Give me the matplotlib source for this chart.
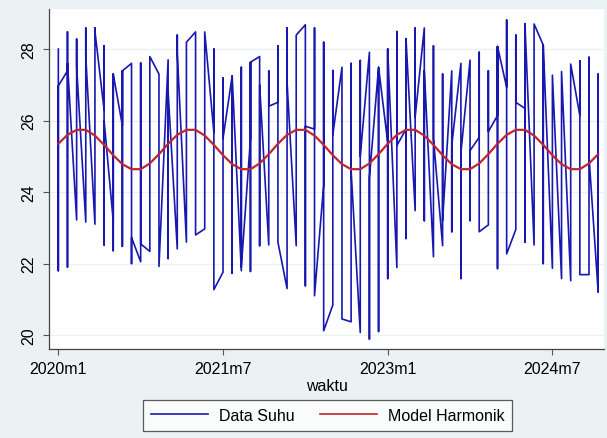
import matplotlib
matplotlib.use('Agg')
import matplotlib.pyplot as plt

plt.rcParams['font.family'] = ['Liberation Sans', 'DejaVu Sans']

# ---- data ----
tick_months = [0, 18, 36, 54]
tick_labels = ['2020m1', '2021m7', '2023m1', '2024m7']
y_ticks = [20, 22, 24, 26, 28]

# monthly observations of "Data Suhu": first, highest, lowest, last value in each month
suhu_first = [28.00, 27.39, 23.22, 23.16, 23.10, 26.30, 23.20, 25.86, 27.60, 22.05,
              22.34, 27.30, 27.70, 22.41, 22.60, 28.48, 22.97, 25.67, 21.76, 27.25,
              21.80, 25.50, 27.79, 22.52, 26.51, 21.30, 22.50, 28.68, 25.76, 24.20,
              20.84, 27.49, 20.37, 20.07, 27.91, 27.49, 25.39, 21.89, 25.76, 23.48,
              28.59, 22.19, 22.50, 27.39, 27.60, 27.69, 25.53, 23.08, 26.14, 26.93,
              22.95, 26.34, 22.52, 28.11, 21.87, 21.58, 21.52, 26.14, 21.69, 21.21]
suhu_high = [28.00, 28.48, 28.28, 28.59, 28.59, 28.09, 27.30, 27.39, 27.60, 27.61,
             27.79, 27.30, 27.70, 28.39, 28.19, 28.48, 28.48, 28.00, 27.19, 27.25,
             27.49, 27.63, 27.79, 27.39, 28.09, 28.59, 28.39, 28.68, 28.59, 28.19,
             27.40, 27.49, 27.60, 27.68, 27.91, 27.49, 28.00, 28.49, 28.29, 28.59,
             28.59, 28.09, 27.30, 27.39, 27.60, 27.69, 27.91, 27.39, 28.07, 28.81,
             28.39, 28.71, 28.70, 28.11, 27.27, 27.37, 27.58, 27.67, 27.77, 27.30]
suhu_low = [21.80, 21.90, 23.22, 23.16, 23.10, 22.52, 22.36, 22.48, 22.00, 22.05,
            22.34, 21.92, 22.14, 22.41, 22.60, 22.80, 22.97, 21.27, 21.76, 21.73,
            21.80, 21.78, 22.50, 22.52, 22.60, 21.30, 22.50, 21.38, 21.10, 20.12,
            20.84, 20.45, 20.37, 20.07, 19.89, 20.10, 21.58, 21.89, 22.70, 23.48,
            23.20, 22.19, 22.50, 22.89, 21.58, 23.20, 22.89, 23.08, 21.86, 22.27,
            22.95, 22.60, 22.52, 22.00, 21.87, 21.58, 21.52, 21.69, 21.69, 21.21]
suhu_last = [26.97, 27.60, 27.50, 27.80, 28.50, 26.00, 27.30, 27.39, 22.73, 22.55,
             27.79, 21.92, 26.80, 27.90, 28.19, 22.80, 28.48, 21.27, 25.50, 27.25,
             21.90, 27.63, 27.00, 26.40, 22.60, 27.07, 28.39, 25.84, 21.10, 20.12,
             25.60, 20.45, 24.60, 25.00, 24.40, 27.49, 28.00, 25.30, 28.29, 26.10,
             27.40, 25.50, 23.20, 25.30, 25.10, 25.16, 22.89, 25.69, 28.07, 22.27,
             26.51, 28.71, 28.70, 28.11, 27.27, 27.37, 27.58, 21.69, 25.00, 21.21]

# fitted "Model Harmonik" value for each month
harmonik = [25.35, 25.60, 25.74, 25.74, 25.58, 25.32, 25.03, 24.78, 24.64, 24.64, 24.80, 25.06,
            25.35, 25.60, 25.74, 25.74, 25.58, 25.32, 25.03, 24.78, 24.64, 24.64, 24.80, 25.06,
            25.35, 25.60, 25.74, 25.74, 25.58, 25.32, 25.03, 24.78, 24.64, 24.64, 24.80, 25.06,
            25.35, 25.60, 25.74, 25.74, 25.58, 25.32, 25.03, 24.78, 24.64, 24.64, 24.80, 25.06,
            25.35, 25.60, 25.74, 25.74, 25.58, 25.32, 25.03, 24.78, 24.64, 24.64, 24.80, 25.06]

# ---- build the observation sequence ----
xs, ys = [], []
for m in range(len(suhu_high)):
    for v in (suhu_first[m], suhu_high[m], suhu_low[m], suhu_last[m]):
        xs.append(m)
        ys.append(v)
hx = list(range(len(harmonik)))

bg = '#EAF2F3'
fig = plt.figure(figsize=(6.07, 4.39), dpi=100, facecolor=bg)
ax = fig.add_axes([49 / 607, 1 - 350 / 439, (604 - 49) / 607, (350 - 10) / 439])
ax.set_facecolor('white')

ax.plot(xs, ys, color='#1818b0', lw=1.2, label='Data Suhu', zorder=3)
ax.plot(hx, harmonik, color='#c0262d', lw=1.6, label='Model Harmonik', zorder=4)

ax.set_xlim(-1.02, 59.64)
ax.set_ylim(19.61, 29.12)
ax.set_xticks(tick_months)
ax.set_xticklabels(tick_labels, fontsize=11.5)
ax.set_yticks(y_ticks)
ax.set_yticklabels([str(t) for t in y_ticks], fontsize=11.5, rotation=90, va='center')
ax.tick_params(axis='both', length=4, width=0.8, color='#555555', pad=5)
ax.grid(axis='y', color=bg, lw=1.0, zorder=0)
ax.set_axisbelow(True)
for s in ['top', 'right']:
    ax.spines[s].set_visible(False)
for s in ['left', 'bottom']:
    ax.spines[s].set_color('#444444')
    ax.spines[s].set_linewidth(0.9)

ax.set_xlabel('waktu', fontsize=11.5, labelpad=1)

leg = fig.legend(loc='center', bbox_to_anchor=(327.5 / 607, 1 - 416.5 / 439), ncol=2,
                 fontsize=11.5, frameon=True, fancybox=False, handlelength=3.6,
                 handletextpad=0.65, columnspacing=1.6, borderpad=0.5)
leg.get_frame().set_edgecolor('#333333')
leg.get_frame().set_linewidth(0.9)
leg.get_frame().set_facecolor('white')
for line in leg.get_lines():
    line.set_linewidth(1.2)

fig.savefig('out.png', dpi=100, facecolor=bg)
